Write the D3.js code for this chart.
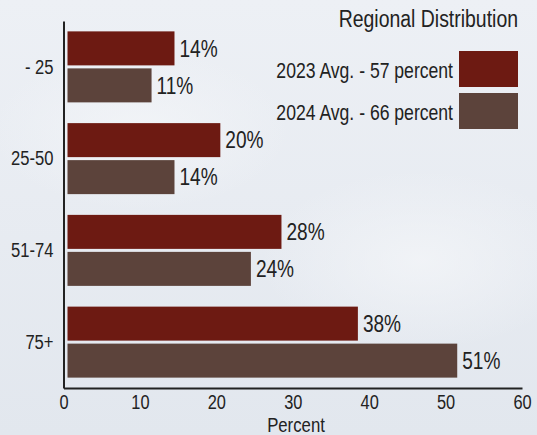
<!DOCTYPE html>
<html><head><meta charset="utf-8">
<script src="https://cdn.jsdelivr.net/npm/d3@7"></script>
<style>
html,body{margin:0;padding:0;}
body{width:537px;height:435px;overflow:hidden;}
svg{display:block;}
text{font-family:"Liberation Sans",Arial,sans-serif;fill:#222;}
</style></head>
<body>
<script>
const categories = ["- 25", "25-50", "51-74", "75+"];
const series = ["2023 Avg. - 57 percent", "2024 Avg. - 66 percent"];
const values2023 = [14, 20, 28, 38];
const values2024 = [11, 14, 24, 51];
const xTicks = [0, 10, 20, 30, 40, 50, 60];
const colors = ["#6d1a12", "#5c433b"];
const title = "Regional Distribution";
const xTitle = "Percent";

const W = 537, H = 435;
const svg = d3.select("body").append("svg").attr("width", W).attr("height", H);

const defs = svg.append("defs");
const lg = defs.append("linearGradient").attr("id","bg").attr("x1",0).attr("y1",0).attr("x2",0).attr("y2",1);
lg.append("stop").attr("offset","0%").attr("stop-color","#edf0f5");
lg.append("stop").attr("offset","100%").attr("stop-color","#e2e7ee");
svg.append("rect").attr("width",W).attr("height",H).attr("fill","url(#bg)");
const rg = defs.append("radialGradient").attr("id","cl");
rg.append("stop").attr("offset","0%").attr("stop-color","#f3f5f8").attr("stop-opacity",0.8);
rg.append("stop").attr("offset","100%").attr("stop-color","#f3f5f8").attr("stop-opacity",0);
svg.append("ellipse").attr("cx",420).attr("cy",260).attr("rx",160).attr("ry",90).attr("fill","url(#cl)");
svg.append("ellipse").attr("cx",140).attr("cy",130).attr("rx",150).attr("ry",80).attr("fill","url(#cl)");

function narrowText(parent, tx, ty, str, size, sx, anchor, dy) {
  return parent.append("text")
    .attr("transform", `translate(${tx},${ty}) scale(${sx},1)`)
    .attr("text-anchor", anchor || "start")
    .attr("dy", dy || 0)
    .attr("font-size", size)
    .text(str);
}

const x0 = 63.5, x1 = 522, yTop = 21, yBot = 388;
const x = d3.scaleLinear().domain([0, 60]).range([x0, x1]);
const y = d3.scaleBand().domain(categories).range([yTop, yBot]).paddingInner(0).paddingOuter(0);
const barH = 34, gap = 3, barOff = 4;

const data = categories.map((c, i) => ({c, vals: [values2023[i], values2024[i]]}));
const groupH = barH * 2 + gap;

const g = svg.append("g");
data.forEach(d => {
  const gy = y(d.c) + (y.bandwidth() - groupH) / 2;
  d.vals.forEach((v, j) => {
    const by = gy + j * (barH + gap);
    g.append("rect")
      .attr("x", x(0) + barOff)
      .attr("y", by)
      .attr("width", x(v) - x(0))
      .attr("height", barH)
      .attr("fill", colors[j]);
    narrowText(g, x(v) + barOff + 5, by + barH / 2, v + "%", 23, 0.83, "start", "0.36em");
  });
});

// axes
const TSX = 0.78;
const xAxis = d3.axisBottom(x).tickValues(xTicks).tickSize(0).tickPadding(6);
const gx = svg.append("g").attr("transform", `translate(0,${yBot})`).call(xAxis);
gx.select(".domain").attr("stroke", "#222").attr("stroke-width", 2);
gx.selectAll("text").attr("font-size", 21).attr("fill", "#222")
  .attr("transform", `scale(${TSX},1)`)
  .style("font-family", '"Liberation Sans",Arial,sans-serif');

const CSX = 0.79;
const yAxis = d3.axisLeft(y).tickSize(0).tickPadding(10);
const gy = svg.append("g").attr("transform", `translate(${x0},0)`).call(yAxis);
gy.select(".domain").attr("stroke", "#222").attr("stroke-width", 2);
gy.selectAll("text").attr("font-size", 21).attr("fill", "#222")
  .attr("x", -10 / CSX)
  .attr("transform", `scale(${CSX},1)`)
  .style("font-family", '"Liberation Sans",Arial,sans-serif');

narrowText(svg, 296, 431.5, xTitle, 19.5, 0.86, "middle");
narrowText(svg, 518, 27, title, 24, 0.81, "end");

// legend
series.forEach((s, i) => {
  const ly = 51 + i * 42;
  svg.append("rect").attr("x", 459).attr("y", ly).attr("width", 59).attr("height", 36).attr("fill", colors[i]);
  narrowText(svg, 453, ly + 19, s, 22, 0.8, "end", "0.36em");
});
</script>
</body></html>
